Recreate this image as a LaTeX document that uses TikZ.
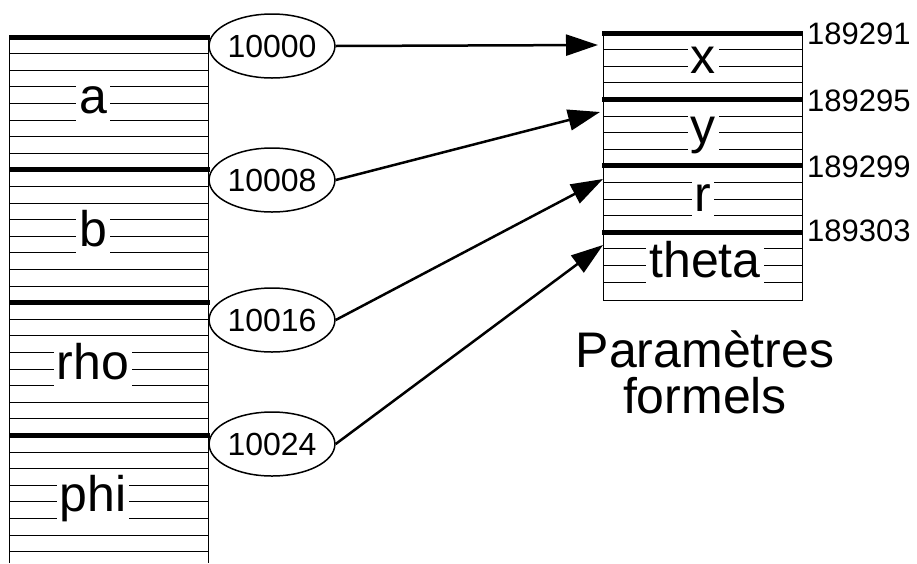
\documentclass[tikz,border=0pt]{standalone}
\usepackage{fontspec}
\setmainfont{Liberation Sans}
\usetikzlibrary{arrows.meta,shapes.geometric}

\begin{document}
\begin{tikzpicture}[x=1pt,y=-1pt,
            row/.style={line width=1pt},
            limit/.style={line width=5pt},
            cellname/.style={fill=white,anchor=base,inner xsep=3pt,inner ysep=2pt,
                text height=27pt,text depth=6pt,font=\fontsize{50}{60}\selectfont},
            adr/.style={ellipse,draw,line width=1.5pt,minimum width=122pt,
                minimum height=64pt,inner sep=0pt,font=\fontsize{32}{38}\selectfont},
            offset/.style={anchor=west,inner sep=0pt,font=\fontsize{31}{37}\selectfont},
            pointer/.style={line width=2.5pt,-{Triangle[length=32pt,width=21pt]}}]
            \useasboundingbox (0,0) rectangle (917,563);

            \foreach \k in {1,...,31} \draw[row] (9,37+\k*16.6) -- (208,37+\k*16.6);
            \draw[row] (9,37) -- (9,563);
            \draw[row] (208,37) -- (208,563);
            \foreach \k in {0,8,16,24} \draw[limit] (9,37+\k*16.6) -- (209.5,37+\k*16.6);

            \node[cellname] (a) at (93,113) {a};
            \node[cellname] (b) at (93,246) {b};
            \node[cellname] (rho) at (93,379) {rho};
            \node[cellname] (phi) at (93,511) {phi};

            \foreach \k in {1,...,15} \draw[row] (603,33+\k*16.6) -- (802,33+\k*16.6);
            \draw[row] (603,33) rectangle (802,300);
            \foreach \k in {0,4,8,12} \draw[limit] (602,33+\k*16.6) -- (803,33+\k*16.6);

            \node[cellname] (x) at (703,73) {x};
            \node[cellname] (y) at (703,143) {y};
            \node[cellname] (r) at (703,211) {r};
            \node[cellname] (theta) at (705,277) {theta};

            \node[offset] (o1) at (807,34) {189291};
            \node[offset] (o2) at (807,101) {189295};
            \node[offset] (o3) at (807,167) {189299};
            \node[offset] (o4) at (807,231) {189303};

            \node[adr] (e1) at (272,46) {10000};
            \node[adr] (e2) at (272,180) {10008};
            \node[adr] (e3) at (272,320) {10016};
            \node[adr] (e4) at (272,444) {10024};

            \coordinate (px) at (598,45);
            \coordinate (py) at (600,112);
            \coordinate (pr) at (603,179);
            \coordinate (ptheta) at (603,245);

            \draw[pointer] (e1.east) -- (px);
            \draw[pointer] (e2.east) -- (py);
            \draw[pointer] (e3.east) -- (pr);
            \draw[pointer] (e4.east) -- (ptheta);

            \node[align=center,inner sep=0pt,font=\fontsize{50}{46}\selectfont] (formal) at (705,372) {Paramètres\\formels};
        \end{tikzpicture}
\end{document}
